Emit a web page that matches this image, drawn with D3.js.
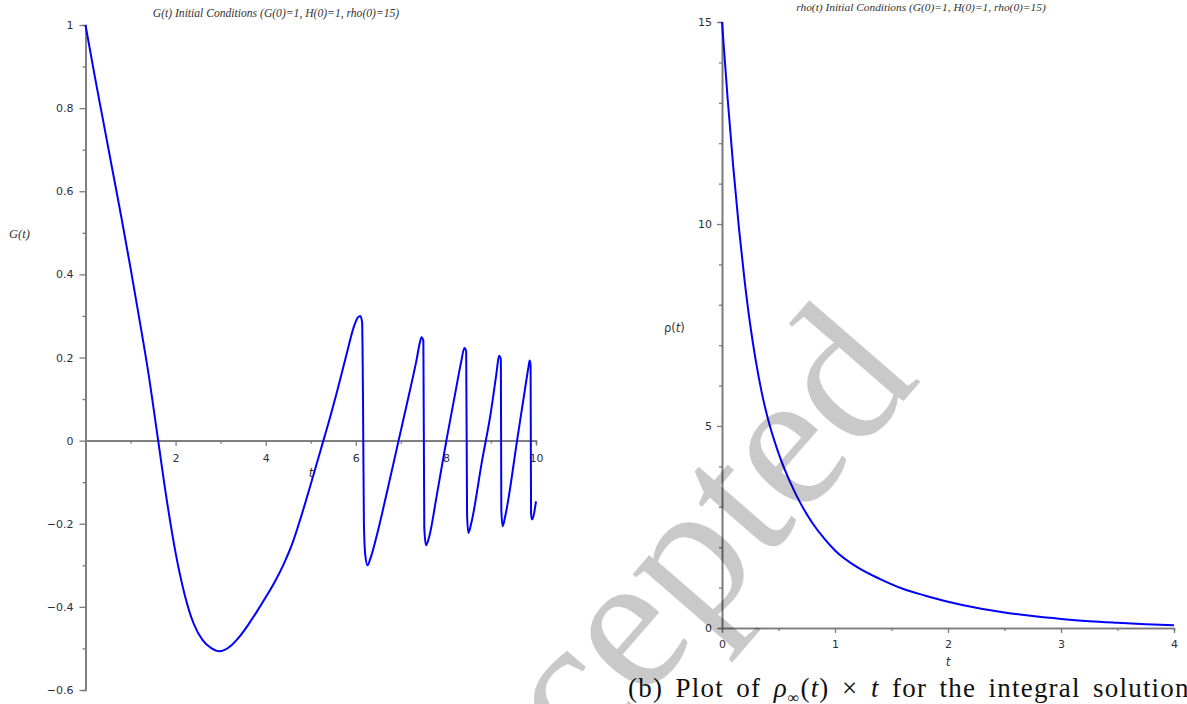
<!DOCTYPE html>
<html>
<head>
<meta charset="utf-8">
<script src="https://cdn.jsdelivr.net/npm/d3@7"></script>
<style>
  html, body { margin: 0; padding: 0; background: #fff; }
  svg { display: block; }
  .tick text { font-family: "DejaVu Sans", sans-serif; font-size: 11px; fill: #2e2e3e; }
</style>
</head>
<body>
<svg id="chart" width="1187" height="704"></svg>
<script>
// G(t) samples (t, G)
const gTimes = [0, 0.2, 0.4, 0.6, 0.8, 1.0, 1.2, 1.4, 1.6, 1.8, 2.0, 2.2, 2.4, 2.6, 2.8, 2.97, 3.2, 3.4, 3.6, 3.8, 4.0, 4.2, 4.4, 4.6, 4.8, 5.0, 5.28, 5.4, 5.6, 5.8, 5.96, 6.05, 6.1, 6.14, 6.16, 6.18, 6.21, 6.26, 6.32, 6.45, 6.7, 6.95, 7.2, 7.35, 7.42, 7.46, 7.5, 7.52, 7.56, 7.62, 7.8, 8.01, 8.2, 8.34, 8.41, 8.45, 8.47, 8.5, 8.56, 8.8, 9.0, 9.12, 9.18, 9.22, 9.23, 9.26, 9.32, 9.58, 9.75, 9.83, 9.86, 9.88, 9.89, 9.91, 10.0];
const gValues = [1.0, 0.88, 0.765, 0.65, 0.535, 0.415, 0.29, 0.16, 0.01, -0.14, -0.27, -0.37, -0.44, -0.48, -0.5, -0.507, -0.496, -0.474, -0.445, -0.412, -0.377, -0.34, -0.297, -0.245, -0.178, -0.105, 0.0, 0.045, 0.125, 0.21, 0.275, 0.297, 0.3, 0.285, 0.1, -0.2, -0.275, -0.3, -0.285, -0.235, -0.12, 0.0, 0.12, 0.195, 0.235, 0.249, 0.24, -0.21, -0.252, -0.235, -0.13, 0.0, 0.11, 0.19, 0.223, 0.215, -0.18, -0.222, -0.2, -0.05, 0.07, 0.16, 0.204, 0.195, -0.166, -0.206, -0.18, 0.0, 0.12, 0.175, 0.193, 0.18, -0.174, -0.19, -0.146];

// rho(t) samples (t, rho)
const rhoTimes = [0, 0.05, 0.1, 0.15, 0.2, 0.25, 0.3, 0.35, 0.4, 0.5, 0.6, 0.7, 0.8, 0.9, 1.0, 1.2, 1.4, 1.6, 1.8, 2.0, 2.25, 2.5, 2.75, 3.0, 3.25, 3.5, 3.75, 4.0];
const rhoValues = [15, 13.1, 11.4, 9.9, 8.6, 7.5, 6.6, 5.85, 5.25, 4.33, 3.63, 3.06, 2.6, 2.23, 1.92, 1.5, 1.21, 0.97, 0.8, 0.65, 0.5, 0.385, 0.295, 0.225, 0.17, 0.13, 0.095, 0.065];

// Axis ticks
const gXMajor = [2, 4, 6, 8, 10];
const gXMinor = [1, 3, 5, 7, 9];
const gYMajor = [-0.6, -0.4, -0.2, 0, 0.2, 0.4, 0.6, 0.8, 1];
const gYMinor = [-0.5, -0.3, -0.1, 0.1, 0.3, 0.5, 0.7, 0.9];
const rXMajor = [0, 1, 2, 3, 4];
const rXMinor = [0.5, 1.5, 2.5, 3.5];
const rYMajor = [0, 5, 10, 15];
const rYMinor = [1, 2, 3, 4, 6, 7, 8, 9, 11, 12, 13, 14];

const titleG = "G(t) Initial Conditions (G(0)=1, H(0)=1, rho(0)=15)";
const titleR = "rho(t) Initial Conditions (G(0)=1, H(0)=1, rho(0)=15)";

const svg = d3.select("#chart");
const axisColor = "#7a7a7a";
const curveColor = "#0000ff";

const fmtNum = d => (d < 0 ? "\u2212" + Math.abs(d) : String(d));

function styleAxis(g) {
  g.selectAll(".domain").attr("stroke", axisColor).attr("stroke-width", 1.6);
  g.selectAll(".tick line").attr("stroke", axisColor).attr("stroke-width", 1.3);
}

// ---------- Left panel: G(t) ----------
const xG = d3.scaleLinear().domain([0, 10]).range([85.5, 536]);
const yG = d3.scaleLinear().domain([-0.6, 1]).range([690, 25]);

const left = svg.append("g");

left.append("g")
  .attr("transform", `translate(${xG(0)},0)`)
  .call(d3.axisLeft(yG).tickValues(gYMinor).tickSize(3).tickFormat(""))
  .call(styleAxis);
left.append("g")
  .attr("transform", `translate(${xG(0)},0)`)
  .call(d3.axisLeft(yG).tickValues(gYMajor).tickSize(6).tickSizeOuter(0).tickPadding(6).tickFormat(fmtNum))
  .call(styleAxis);

left.append("g")
  .attr("transform", `translate(0,${yG(0)})`)
  .call(d3.axisBottom(xG).tickValues(gXMinor).tickSize(3).tickFormat(""))
  .call(styleAxis);
left.append("g")
  .attr("transform", `translate(0,${yG(0)})`)
  .call(d3.axisBottom(xG).tickValues(gXMajor).tickSize(5).tickSizeOuter(0).tickPadding(9).tickFormat(d3.format("d")))
  .call(styleAxis);

const lineG = d3.line()
  .x((d, i) => xG(gTimes[i]))
  .y(d => yG(d))
  .curve(d3.curveMonotoneX);

left.append("path")
  .attr("d", lineG(gValues))
  .attr("fill", "none")
  .attr("stroke", curveColor)
  .attr("stroke-width", 2);

left.append("text")
  .attr("x", 276).attr("y", 17)
  .attr("text-anchor", "middle")
  .attr("font-family", "Liberation Serif, serif")
  .attr("font-style", "italic")
  .attr("font-size", 11.6)
  .attr("fill", "#333")
  .text(titleG);

left.append("text")
  .attr("x", 9).attr("y", 238)
  .attr("font-family", "Liberation Serif, serif")
  .attr("font-style", "italic")
  .attr("font-size", 12.5)
  .attr("fill", "#333")
  .text("G(t)");

left.append("text")
  .attr("x", 311).attr("y", 477)
  .attr("text-anchor", "middle")
  .attr("font-family", "DejaVu Sans, sans-serif")
  .attr("font-style", "italic")
  .attr("font-size", 12)
  .attr("fill", "#333")
  .text("t");

// ---------- Right panel: rho(t) ----------
const xR = d3.scaleLinear().domain([0, 4]).range([722, 1174]);
const yR = d3.scaleLinear().domain([0, 15]).range([628, 22]);

const right = svg.append("g");

right.append("g")
  .attr("transform", `translate(${xR(0)},0)`)
  .call(d3.axisLeft(yR).tickValues(rYMinor).tickSize(3).tickFormat(""))
  .call(styleAxis);
right.append("g")
  .attr("transform", `translate(${xR(0)},0)`)
  .call(d3.axisLeft(yR).tickValues(rYMajor).tickSize(5).tickSizeOuter(0).tickPadding(5).tickFormat(d3.format("d")))
  .call(styleAxis);

right.append("g")
  .attr("transform", `translate(0,${yR(0)})`)
  .call(d3.axisBottom(xR).tickValues(rXMinor).tickSize(3).tickFormat(""))
  .call(styleAxis);
right.append("g")
  .attr("transform", `translate(0,${yR(0)})`)
  .call(d3.axisBottom(xR).tickValues(rXMajor).tickSize(5).tickSizeOuter(0).tickPadding(7).tickFormat(d3.format("d")))
  .call(styleAxis);

const lineR = d3.line()
  .x((d, i) => xR(rhoTimes[i]))
  .y(d => yR(d))
  .curve(d3.curveMonotoneX);

right.append("path")
  .attr("d", lineR(rhoValues))
  .attr("fill", "none")
  .attr("stroke", curveColor)
  .attr("stroke-width", 2);

right.append("text")
  .attr("x", 921).attr("y", 11)
  .attr("text-anchor", "middle")
  .attr("font-family", "Liberation Serif, serif")
  .attr("font-style", "italic")
  .attr("font-size", 11.4)
  .attr("fill", "#333")
  .text(titleR);

const rhoLabel = right.append("text")
  .attr("x", 664).attr("y", 332)
  .attr("font-family", "DejaVu Sans, sans-serif")
  .attr("font-size", 11.5)
  .attr("fill", "#333");
rhoLabel.append("tspan").text("\u03c1(");
rhoLabel.append("tspan").attr("font-style", "italic").text("t");
rhoLabel.append("tspan").text(")");

right.append("text")
  .attr("x", xR(2)).attr("y", 666)
  .attr("text-anchor", "middle")
  .attr("font-family", "DejaVu Sans, sans-serif")
  .attr("font-style", "italic")
  .attr("font-size", 12)
  .attr("fill", "#333")
  .text("t");

// ---------- Caption ----------
const cap = svg.append("text")
  .attr("x", 628).attr("y", 697)
  .attr("font-family", "Liberation Serif, serif")
  .attr("font-size", 27)
  .attr("letter-spacing", 1.2)
  .attr("word-spacing", 4.5)
  .attr("fill", "#111");
cap.append("tspan").text("(b) Plot of ");
cap.append("tspan").attr("font-style", "italic").text("\u03c1");
cap.append("tspan").attr("font-size", 16).attr("dy", 6).text("\u221e");
cap.append("tspan").attr("dy", -6).text("(");
cap.append("tspan").attr("font-style", "italic").text("t");
cap.append("tspan").text(") \u00d7 ");
cap.append("tspan").attr("font-style", "italic").text("t");
cap.append("tspan").text(" for the integral solution");

// ---------- Watermark ----------
svg.append("text")
  .attr("transform", "translate(922,380) rotate(-49)")
  .attr("text-anchor", "end")
  .attr("font-family", "Liberation Serif, serif")
  .attr("font-size", 198)
  .attr("fill", "#000")
  .attr("fill-opacity", 0.21)
  .text("Accepted");
</script>
</body>
</html>
